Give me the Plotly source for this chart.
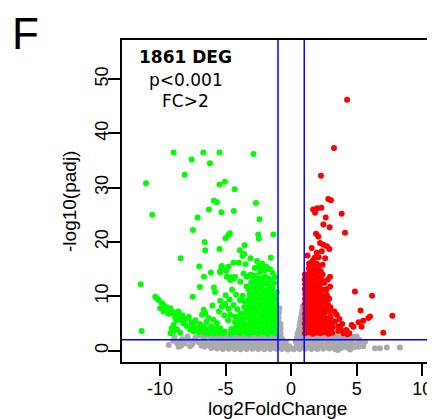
import plotly.graph_objects as go

# cut-offs used in the figure
fc_cut = 1
padj_cut = 2

x_ticks = [-10, -5, 0, 5, 10]
x_labels = ["-10", "-5", "0", "5", "10"]
y_ticks = [0, 10, 20, 30, 40, 50]

# non significant genes (grey), (log2FC, -log10 padj)
ns_pts = [
    (-6.1, 0.5), (-5.65, 0.4), (-5.2, 0.3), (-4.75, 0.35), (-4.3, 0.3), (-3.85, 0.25), (-3.4, 0.3), (-2.95, 0.35),
    (-2.5, 0.3), (-2.05, 0.25), (-1.6, 0.3), (-1.15, 0.35), (-0.7, 0.3), (-0.25, 0.2), (0.2, 0.25), (0.65, 0.3),
    (1.1, 0.35), (1.55, 0.3), (2.0, 0.3), (2.45, 0.35), (2.9, 0.4), (3.35, 0.3), (3.8, 0.45), (4.25, 0.55),
    (-5.9, 0.75), (-5.45, 0.7), (-4.95, 0.65), (-4.55, 0.7), (-4.05, 0.6), (-3.6, 0.65), (-3.15, 0.7), (-2.7, 0.6),
    (-2.25, 0.65), (-1.8, 0.7), (-1.35, 0.6), (-0.9, 0.65), (-0.45, 0.6), (0.0, 0.45), (0.4, 0.6), (0.85, 0.65),
    (1.3, 0.7), (1.75, 0.6), (2.2, 0.65), (2.65, 0.7), (3.1, 0.6), (3.55, 0.65), (4.0, 0.75), (4.45, 0.8),
    (-6.3, 1.2), (-5.85, 1.1), (-5.4, 1.05), (-4.95, 1.1), (-4.5, 1.0), (-4.05, 1.1), (-3.6, 1.05), (-3.15, 1.0),
    (-2.7, 1.1), (-2.25, 1.05), (-1.8, 1.0), (-1.35, 1.1), (-0.9, 1.05), (-0.5, 1.0), (0.45, 1.1), (0.9, 1.05),
    (1.35, 1.0), (1.8, 1.1), (2.25, 1.05), (2.7, 1.0), (3.15, 1.1), (3.6, 1.05), (4.05, 1.1), (4.5, 1.2),
    (-6.05, 1.5), (-5.6, 1.45), (-5.15, 1.55), (-4.7, 1.5), (-4.25, 1.45), (-3.8, 1.5), (-3.35, 1.55), (-2.9, 1.45),
    (-2.45, 1.5), (-2.0, 1.55), (-1.55, 1.5), (-1.1, 1.45), (-0.7, 1.5), (0.55, 1.5), (0.95, 1.45), (1.4, 1.55),
    (1.85, 1.5), (2.3, 1.45), (2.75, 1.5), (3.2, 1.55), (3.65, 1.5), (4.1, 1.45), (4.55, 1.5),
    (-6.0, 1.9), (-5.55, 1.85), (-5.1, 1.95), (-4.65, 1.9), (-4.2, 1.85), (-3.75, 1.9), (-3.3, 1.95), (-2.85, 1.85),
    (-2.4, 1.9), (-1.95, 1.95), (-1.5, 1.9), (-1.05, 1.85), (-0.65, 1.9), (0.6, 1.95), (1.0, 1.9), (1.45, 1.85),
    (1.9, 1.9), (2.35, 1.95), (2.8, 1.9), (3.25, 1.85), (3.7, 1.9), (4.15, 2.0), (4.6, 1.9),
    (-5.95, 2.25), (-5.5, 2.3), (-5.05, 2.25), (-4.6, 2.2), (-4.15, 2.3), (-3.7, 2.25), (-3.25, 2.2), (-2.8, 2.3),
    (-2.35, 2.25), (-1.9, 2.2), (-1.45, 2.3), (-1.0, 2.25), (-0.7, 2.2), (0.65, 2.25), (1.0, 2.3), (1.45, 2.2),
    (1.9, 2.25), (2.35, 2.3), (2.8, 2.2), (3.25, 2.25), (3.7, 2.3), (4.15, 2.25), (4.6, 2.3),
    (-6.2, 2.6), (-5.75, 2.65), (-5.3, 2.7), (-4.85, 2.6), (-4.4, 2.65), (-3.95, 2.7), (-3.5, 2.6), (-3.05, 2.7),
    (-2.6, 2.65), (-2.15, 2.6), (-1.7, 2.7), (-1.25, 2.65), (-0.8, 2.7), (0.75, 2.6), (1.2, 2.7), (1.65, 2.65),
    (2.1, 2.6), (2.55, 2.7), (3.0, 2.65), (3.45, 2.6), (3.9, 2.7), (4.35, 2.6), (4.8, 2.5),
    # the V around zero
    (-0.95, 3.4), (-0.95, 4.3), (-0.95, 5.2), (-0.95, 6.1), (-0.93, 7.0), (-0.9, 7.8), (-0.8, 3.3), (-0.8, 4.1),
    (-0.8, 4.9), (-0.4, 1.6), (-0.15, 0.8), (0.35, 1.6), (0.45, 2.4), (0.5, 3.2), (0.6, 3.9), (0.65, 4.6),
    (0.7, 5.3), (0.75, 6.0), (0.8, 6.7), (0.85, 7.4), (0.88, 8.1), (0.85, 3.4), (0.85, 4.3), (0.9, 5.2), (0.55, 2.7),
    # left tail
    (-9.34, 1.05), (-8.58, 0.7), (-9.0, 1.8), (-8.7, 1.4), (-8.3, 2.1), (-8.1, 1.3), (-7.8, 1.9), (-7.55, 1.1),
    (-7.3, 2.4), (-7.1, 1.6), (-6.85, 0.9), (-6.65, 2.1), (-6.5, 1.4), (-6.6, 2.8), (-8.9, 2.5), (-7.9, 2.6),
    (-6.95, 2.8), (-8.4, 0.9), (-7.7, 0.8), (-6.6, 0.7), (-8.5, 1.7), (-7.45, 1.8), (-6.8, 1.3), (-6.4, 1.0),
    # right tail
    (4.8, 0.6), (5.0, 1.3), (5.2, 2.0), (5.15, 0.7), (5.4, 1.4), (5.64, 1.65), (5.0, 2.6), (4.7, 0.9),
    (5.5, 0.8), (3.55, 0.1), (4.5, 0.2), (6.4, 0.44), (6.78, 0.44), (7.3, 0.56), (8.3, 0.56),
]

# down regulated genes (green)
down_pts = [
    (-8.96, 36.5), (-6.70, 36.5), (-5.46, 36.5), (-2.87, 36.2), (-7.59, 35.2), (-6.19, 34.5), (-8.12, 32.4),
    (-11.07, 30.8), (-5.46, 30.6), (-5.05, 31.1), (-4.31, 29.7), (-5.89, 27.6), (-5.66, 27.3), (-2.69, 27.2),
    (-6.27, 26.0), (-5.31, 25.5), (-4.37, 25.7), (-10.59, 25.0), (-7.14, 24.5), (-2.41, 24.2), (-7.49, 22.2),
    (-4.67, 21.6), (-4.79, 21.3), (-5.0, 20.7), (-2.51, 21.4), (-2.46, 20.6), (-1.35, 21.4), (-6.60, 20.0),
    (-6.55, 18.5), (-5.46, 18.7), (-3.55, 19.4), (-3.91, 18.5), (-3.58, 17.8), (-3.71, 17.4), (-3.10, 17.0),
    (-1.55, 17.1), (-8.43, 17.0), (-4.39, 16.2), (-3.99, 16.2), (-3.48, 15.9), (-7.01, 15.5), (-5.31, 15.5),
    (-4.95, 14.7), (-2.77, 15.2), (-6.12, 14.4), (-5.41, 14.4), (-6.65, 13.6), (-4.6, 13.5), (-4.27, 13.6),
    (-11.48, 12.2), (-6.96, 11.7), (-5.89, 11.6), (-7.5, 9.9), (-11.4, 3.6),
    # the curved arm on the left
    (-10.36, 9.9), (-10.23, 9.65), (-10.1, 9.3), (-9.85, 8.7), (-9.72, 8.4), (-9.98, 7.8), (-9.72, 7.2),
    (-9.5, 8.0), (-9.2, 7.8), (-9.35, 6.8), (-9.09, 6.9), (-8.96, 7.0), (-8.85, 6.2), (-8.7, 6.4), (-8.76, 5.6),
    (-8.6, 7.2), (-8.45, 5.7), (-8.3, 6.5), (-8.2, 5.0), (-8.05, 5.8), (-7.94, 4.5), (-7.8, 6.2), (-7.69, 3.9),
    (-7.6, 5.2), (-7.44, 3.5), (-7.45, 4.6), (-7.3, 5.6), (-7.2, 4.1), (-7.05, 3.4), (-6.95, 4.9), (-6.85, 3.8),
    (-6.7, 4.4), (-6.6, 3.3), (-6.45, 5.3), (-6.4, 3.9), (-6.25, 3.2), (-6.1, 4.5), (-6.0, 3.6), (-5.85, 3.2),
    (-5.7, 4.0), (-5.55, 3.3), (-5.4, 3.7), (-5.2, 3.2), (-5.05, 3.5), (-9.1, 4.1), (-8.97, 3.5), (-8.96, 4.7),
    (-8.7, 3.9), (-8.45, 3.3), (-9.2, 3.2),
    # middle group
    (-6.67, 7.5), (-6.55, 6.9), (-6.8, 6.6), (-5.92, 5.7), (-5.66, 5.05), (-5.41, 4.1), (-5.28, 3.5),
    (-5.41, 9.2), (-5.03, 8.6), (-4.78, 7.7), (-5.28, 8.1), (-4.64, 6.6), (-4.26, 6.3), (-4.13, 5.4),
    (-3.88, 4.8), (-4.9, 13.6), (-4.64, 13.0), (-4.39, 13.3), (-3.88, 12.7), (-3.63, 14.2), (-3.37, 13.6),
    (-3.12, 13.9), (-2.99, 12.7), (-2.86, 13.3), (-2.66, 12.4), (-2.36, 13.3), (-1.98, 13.6), (-1.72, 12.7),
    (-1.6, 12.1), (-5.41, 14.6), (-5.28, 15.6), (-4.77, 15.5), (-5.0, 10.2), (-4.7, 9.4), (-4.4, 8.4),
    (-4.1, 7.6), (-4.8, 5.6), (-5.1, 6.5), (-5.5, 7.2), (-6.0, 8.3), (-6.3, 6.0), (-5.8, 10.8), (-4.5, 11.2),
    (-4.2, 10.3), (-3.9, 9.3),
    # dense block next to the cut-off
    (-1.15, 3.2), (-1.2, 4.1), (-1.12, 5.0), (-1.18, 5.9), (-1.14, 6.8), (-1.2, 7.7), (-1.13, 8.6), (-1.17, 9.5),
    (-1.45, 3.4), (-1.5, 4.3), (-1.42, 5.2), (-1.48, 6.1), (-1.44, 7.0), (-1.5, 7.9), (-1.46, 8.8), (-1.43, 9.7),
    (-1.49, 10.6), (-1.45, 11.5), (-1.8, 3.1), (-1.78, 4.0), (-1.84, 4.9), (-1.8, 5.8), (-1.76, 6.7), (-1.83, 7.6),
    (-1.79, 8.5), (-1.82, 9.4), (-1.77, 10.3), (-1.81, 11.2), (-1.85, 12.3), (-2.15, 3.3), (-2.12, 4.2),
    (-2.18, 5.1), (-2.14, 6.0), (-2.1, 6.9), (-2.17, 7.8), (-2.13, 8.7), (-2.16, 9.6), (-2.11, 10.5), (-2.19, 11.4),
    (-2.14, 12.4), (-2.2, 13.3), (-2.5, 3.2), (-2.47, 4.1), (-2.53, 5.0), (-2.49, 5.9), (-2.45, 6.8), (-2.52, 7.7),
    (-2.48, 8.6), (-2.51, 9.5), (-2.46, 10.4), (-2.54, 11.3), (-2.5, 12.2), (-2.44, 13.1), (-2.85, 3.4),
    (-2.82, 4.3), (-2.88, 5.2), (-2.84, 6.1), (-2.8, 7.0), (-2.87, 7.9), (-2.83, 8.8), (-2.86, 9.7), (-2.81, 10.6),
    (-2.89, 11.6), (-2.85, 12.6), (-3.2, 3.1), (-3.17, 4.0), (-3.23, 4.9), (-3.19, 5.8), (-3.15, 6.7),
    (-3.22, 7.6), (-3.18, 8.5), (-3.21, 9.4), (-3.16, 10.3), (-3.24, 11.2), (-3.55, 3.3), (-3.52, 4.2),
    (-3.58, 5.1), (-3.54, 6.0), (-3.5, 7.0), (-3.57, 8.0), (-3.53, 9.0), (-3.9, 3.2), (-3.87, 4.1), (-3.93, 5.0),
    (-3.89, 5.9), (-3.86, 6.8), (-4.25, 3.4), (-4.22, 4.3), (-4.28, 5.2), (-4.6, 3.1), (-4.57, 4.0),
    (-1.3, 3.7), (-1.6, 4.6), (-1.95, 5.5), (-2.3, 6.4), (-2.65, 7.3), (-3.0, 8.2), (-3.35, 9.1), (-1.3, 10.2),
    (-1.65, 12.0), (-2.0, 13.6), (-2.35, 14.5), (-2.7, 13.8), (-3.05, 12.5), (-3.4, 11.8), (-1.65, 13.2),
    (-2.3, 15.1), (-1.3, 12.4), (-3.7, 10.1), (-3.05, 14.0), (-2.0, 14.8), (-2.6, 16.5), (-2.2, 16.0),
    (-1.9, 15.5), (-1.6, 15.0), (-1.4, 14.3), (-2.45, 15.6), (-1.25, 13.5), (-1.1, 10.8),
]

# up regulated genes (red)
up_pts = [
    (4.27, 46.2), (3.27, 37.3), (2.28, 32.2), (2.84, 27.9), (3.04, 27.7), (1.68, 26.0), (2.0, 26.2), (2.31, 26.3),
    (1.83, 25.4), (3.86, 25.2), (2.64, 24.5), (2.46, 23.2), (2.94, 22.7), (4.11, 21.7), (1.9, 21.5), (2.08, 21.0),
    (2.21, 19.8), (2.46, 19.5), (2.72, 19.2), (2.92, 18.7), (1.57, 18.9), (1.96, 18.0), (2.34, 18.3), (1.45, 16.1),
    (2.1, 17.2), (2.6, 17.0), (1.25, 17.5), (2.97, 13.6), (2.97, 11.8), (2.72, 10.3), (2.84, 9.4),
    (4.87, 10.9), (6.17, 10.1), (5.3, 7.4), (7.72, 6.4), (6.02, 6.3), (5.89, 6.0), (5.5, 5.5), (5.15, 5.2),
    (5.38, 4.4), (4.62, 4.7), (4.75, 4.4), (4.44, 3.2), (7.03, 3.3), (3.48, 6.6), (3.68, 5.8), (3.35, 5.4),
    (3.1, 4.8), (3.6, 4.5), (4.0, 3.2), (4.2, 3.8), (3.6, 3.6), (3.9, 4.9), (2.9, 9.6), (2.7, 11.3), (2.8, 13.1),
    (3.0, 8.0), (3.3, 7.2), (3.8, 3.9), (4.3, 3.0),
    # dense block next to the cut-off
    (1.05, 3.2), (1.08, 4.1), (1.04, 5.0), (1.07, 5.9), (1.05, 6.8), (1.09, 7.7), (1.04, 8.6), (1.06, 9.5),
    (1.08, 10.4), (1.05, 11.3), (1.07, 12.2), (1.04, 13.1), (1.06, 14.0), (1.35, 3.4), (1.38, 4.3), (1.33, 5.2),
    (1.36, 6.1), (1.34, 7.0), (1.39, 7.9), (1.35, 8.8), (1.32, 9.7), (1.37, 10.6), (1.34, 11.5), (1.38, 12.4),
    (1.33, 13.3), (1.36, 14.2), (1.35, 15.1), (1.37, 16.0), (1.65, 3.1), (1.62, 4.0), (1.67, 4.9), (1.64, 5.8),
    (1.68, 6.7), (1.63, 7.6), (1.66, 8.5), (1.62, 9.4), (1.67, 10.3), (1.64, 11.2), (1.68, 12.1), (1.63, 13.0),
    (1.66, 13.9), (1.65, 14.8), (1.62, 15.7), (1.67, 16.6), (1.95, 3.3), (1.98, 4.2), (1.93, 5.1), (1.96, 6.0),
    (1.94, 6.9), (1.99, 7.8), (1.95, 8.7), (1.92, 9.6), (1.97, 10.5), (1.94, 11.4), (1.98, 12.3), (1.93, 13.2),
    (1.96, 14.1), (1.95, 15.0), (1.97, 16.0), (2.25, 3.2), (2.22, 4.1), (2.27, 5.0), (2.24, 5.9), (2.28, 6.8),
    (2.23, 7.7), (2.26, 8.6), (2.22, 9.5), (2.27, 10.4), (2.24, 11.4), (2.28, 12.4), (2.23, 13.4), (2.26, 14.6),
    (2.55, 3.4), (2.58, 4.3), (2.53, 5.2), (2.56, 6.1), (2.54, 7.0), (2.59, 8.0), (2.55, 9.0), (2.52, 10.0),
    (2.57, 11.2), (2.54, 12.5), (2.85, 3.1), (2.82, 4.0), (2.87, 5.0), (2.84, 6.0), (2.88, 7.2), (2.83, 8.4),
    (3.15, 3.3), (3.18, 4.3), (3.13, 5.4),
    (1.2, 3.7), (1.5, 4.6), (1.8, 5.5), (2.1, 6.4), (2.4, 7.3), (2.7, 8.2), (1.2, 9.1), (1.5, 10.1),
    (1.8, 11.0), (2.1, 11.9), (2.4, 12.8), (1.2, 12.8), (1.5, 13.7), (1.8, 14.6), (2.1, 15.5), (2.4, 14.0),
    (1.5, 15.6), (1.8, 17.1), (2.4, 15.8), (2.7, 5.6), (3.0, 6.3), (2.05, 3.7),
]

FONT = "Liberation Sans, Arial, sans-serif"
TXT = "DejaVu Sans"

fig = go.Figure()
for pts, col in [(ns_pts, "#aaaaaa"), (down_pts, "#00ff00"), (up_pts, "#ff0000")]:
    xs, ys = zip(*pts)
    fig.add_trace(go.Scatter(x=xs, y=ys, mode="markers", hoverinfo="skip",
                             marker=dict(size=6, color=col, line=dict(width=0))))

for v in (-fc_cut, fc_cut):
    fig.add_vline(x=v, line=dict(color="#0000ff", width=1.5))
fig.add_hline(y=padj_cut, line=dict(color="#0000ff", width=1.5))

axis = dict(showline=True, mirror=True, linecolor="black", linewidth=1.5, automargin=False,
            showgrid=False, zeroline=False, ticks="outside", ticklen=12,
            tickwidth=1.5, tickcolor="black", tickfont=dict(family=FONT, size=18, color="black"))
fig.update_xaxes(range=[-12.9, 10.9], tickvals=x_ticks, ticktext=x_labels, ticklabelstandoff=-2, **axis)
fig.update_yaxes(range=[-2.1, 57.2], tickvals=y_ticks, tickangle=-90, ticklabelstandoff=-7, **axis)

# axis titles
fig.add_annotation(text="log2FoldChange", xref="paper", yref="paper", x=0.497, y=-0.143,
                   xanchor="center", yanchor="middle", showarrow=False,
                   font=dict(family=FONT, size=19, color="black"))
fig.add_annotation(text="-log10(padj)", xref="paper", yref="paper", x=-0.170, y=0.5, textangle=-90,
                   xanchor="center", yanchor="middle", showarrow=False,
                   font=dict(family=FONT, size=19, color="black"))

# legend text inside the panel
for txt, yy in [("<b>1861 DEG</b>", 0.946), ("p&lt;0.001", 0.876), ("FC&gt;2", 0.811)]:
    fig.add_annotation(text=txt, xref="paper", yref="paper", x=0.205, y=yy,
                       xanchor="center", yanchor="middle", showarrow=False,
                       font=dict(family=TXT, size=17, color="black"))

# panel letter (kept inside the figure so it is not clipped)
fig.add_annotation(text="F", xref="paper", yref="paper", x=-0.36, y=1.019,
                   xanchor="left", yanchor="middle", showarrow=False,
                   font=dict(family=FONT, size=44, color="black"))

# the page body adds an 8px margin, so the figure is 8px smaller than the window
fig.update_layout(width=427, height=411, margin=dict(l=114, r=1, t=32, b=57),
                  plot_bgcolor="white", paper_bgcolor="white", showlegend=False)
fig.write_html("out.html")
